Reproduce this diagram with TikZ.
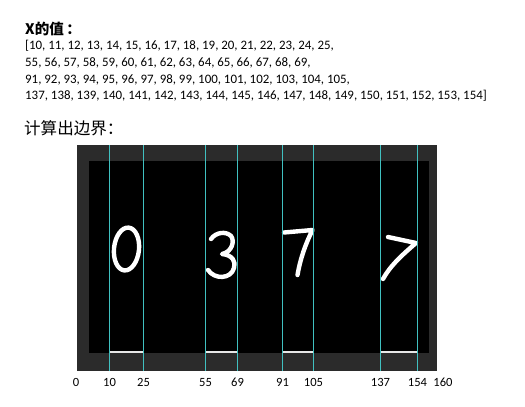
\documentclass[tikz,border=0pt]{standalone}
\usepackage{fontspec}
\setmainfont{Carlito}
\newfontfamily\cjk{Noto Sans CJK SC}
\definecolor{framegray}{HTML}{2B2B2B}
\definecolor{guidecyan}{HTML}{40C0C0}
\definecolor{barwhite}{HTML}{E8E8E8}
\begin{document}
\begin{tikzpicture}[x=1bp,y=-1bp,
  txt/.style={anchor=base west,inner sep=0pt,font=\fontsize{12.95}{16}\selectfont},
  tick/.style={anchor=base,inner sep=0pt,font=\fontsize{12.6}{14}\selectfont},
  guideline/.style={fill=guidecyan,draw=none},
  segbar/.style={draw=barwhite,line width=2bp},
  digit/.style={draw=white,line width=4.4bp,line cap=round,line join=round}]
\useasboundingbox[fill=white] (0,0) rectangle (525,406);
% heading texts
\node[anchor=base west,inner sep=0pt,font=\fontsize{14.6}{16}\cjk\bfseries] (t1) at (25,34.5) {X的值\,：};
\node[txt] (l1) at (25,49) {[10, 11, 12, 13, 14, 15, 16, 17, 18, 19, 20, 21, 22, 23, 24, 25,};
\node[txt] (l2) at (25,66) {55, 56, 57, 58, 59, 60, 61, 62, 63, 64, 65, 66, 67, 68, 69,};
\node[txt] (l3) at (25,83) {91, 92, 93, 94, 95, 96, 97, 98, 99, 100, 101, 102, 103, 104, 105,};
\node[txt] (l4) at (25,99.5) {137, 138, 139, 140, 141, 142, 143, 144, 145, 146, 147, 148, 149, 150, 151, 152, 153, 154]};
\node[anchor=base west,inner sep=0pt,font=\fontsize{16.6}{18}\cjk] (t2) at (24,134.5) {计算出边界：};
% image frame
\fill[framegray] (77,145) rectangle (437,370.5);
\fill[black] (89,161) rectangle (429,352.7);
% digits
\draw[digit] (126.5,249) ellipse[x radius=12.5,y radius=21.5,rotate=-6];
\draw[digit] (211,239) .. controls (216,232) and (226,231) .. (231,236)
  .. controls (235,241) and (232,252) .. (222,254)
  .. controls (233,255) and (236,262) .. (234,268)
  .. controls (231,279) and (215,280) .. (208,270);
\draw[digit] (284,232.5) -- (312.5,230) .. controls (305,245) and (300,260) .. (297.5,275);
\draw[digit] (388,237) -- (416,243) .. controls (402,255) and (390,266) .. (383,279);
% guide line end points
\coordinate (aT) at (109.5,145); \coordinate (aS) at (109.5,351.5);
\coordinate (bT) at (143.5,145); \coordinate (bS) at (143.5,351.5);
\coordinate (cT) at (205.5,145); \coordinate (cS) at (205.5,351.5);
\coordinate (dT) at (237.5,145); \coordinate (dS) at (237.5,351.5);
\coordinate (eT) at (282.5,145); \coordinate (eS) at (282.5,351.5);
\coordinate (fT) at (313.5,145); \coordinate (fS) at (313.5,351.5);
\coordinate (gT) at (380.5,145); \coordinate (gS) at (380.5,351.5);
\coordinate (hT) at (417.5,145); \coordinate (hS) at (417.5,351.5);
% segment bars
\draw[segbar] (aS) -- (bS);
\draw[segbar] (cS) -- (dS);
\draw[segbar] (eS) -- (fS);
\draw[segbar] (gS) -- (hS);
% guide lines (thin filled strips)
\foreach \n in {a,b,c,d,e,f,g,h}{
  \path[guideline] (\n T) ++(-0.7,0) rectangle ++(1.4,225.5);
}
% tick labels
\node[tick] (k0) at (76,386) {0};
\node[tick] (ka) at (109.5,386) {10};
\node[tick] (kb) at (143.5,386) {25};
\node[tick] (kc) at (205.5,386) {55};
\node[tick] (kd) at (237.5,386) {69};
\node[tick] (ke) at (282.5,386) {91};
\node[tick] (kf) at (313.5,386) {105};
\node[tick] (kg) at (380.5,386) {137};
\node[tick] (kh) at (417.5,386) {154};
\node[tick] (k160) at (443,386) {160};
\end{tikzpicture}
\end{document}
